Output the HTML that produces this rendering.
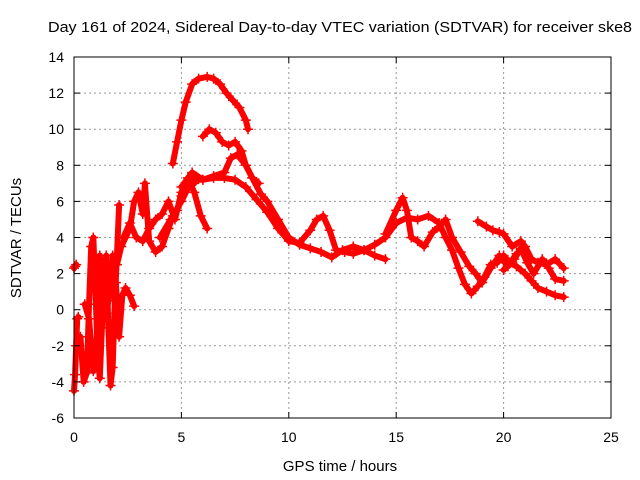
<!DOCTYPE html>
<html><head><meta charset="utf-8"><style>
body{margin:0;background:#fff}
svg{display:block;font-family:"Liberation Sans",sans-serif}
</style></head><body>
<svg id="chart" width="640" height="480">
<rect x="0" y="0" width="640" height="480" fill="#fff"/>
<g id="grid"></g>
<g id="marks"></g>
<g id="axes"></g>
<text x="48" y="32" font-size="15" textLength="584" lengthAdjust="spacingAndGlyphs">Day 161 of 2024, Sidereal Day-to-day VTEC variation (SDTVAR) for receiver ske8</text>
<text x="340" y="471" font-size="15" text-anchor="middle">GPS time / hours</text>
<text transform="translate(21,238) rotate(-90)" font-size="15" text-anchor="middle">SDTVAR / TECUs</text>
</svg>
<script>
const xTicks=[0,5,10,15,20,25];
const yTicks=[-6,-4,-2,0,2,4,6,8,10,12,14];
const track1=[[0,2.3],[0.05,2.4],[0.1,2.5]];
const track2=[[0,-4.5],[0.05,-3.6],[0.1,-2],[0.15,-0.5],[0.2,-0.4]];
const track3=[[0.3,-1.5],[0.45,-4],[0.6,-3.5],[0.7,0.3],[0.8,3.5],[0.9,4],[1,1],[1.1,-2.5],[1.2,-3.8],[1.3,-1],[1.4,2],[1.5,3],[1.6,-1],[1.7,-4.2],[1.8,-3.2],[1.9,0.5],[2,3],[2.1,5.8]];
const track4=[[0.5,0.3],[0.7,-0.5],[0.9,-3.4],[1.05,-2],[1.2,3],[1.35,1.5],[1.5,-0.2],[1.65,0.8],[1.8,3],[1.95,1.5],[2.1,-1.5],[2.25,0.8],[2.4,1.2],[2.6,0.8],[2.8,0.2]];
const track5=[[2,2.5],[2.2,3.5],[2.4,4],[2.6,4.5],[2.8,6],[3,6.5],[3.2,5.3],[3.3,7],[3.5,3.8],[3.8,3.2],[4.1,3.5],[4.4,4.5],[4.6,5.2],[4.8,5.5],[5,6.3],[5.3,6.8],[5.6,7]];
const track6=[[2.3,4],[2.6,4.8],[2.9,4],[3.2,3.8],[3.5,4.5],[3.8,5],[4.1,5.3],[4.4,6],[4.7,5],[5,6.5],[5.3,7.3],[5.6,6.5],[5.9,5.2],[6.2,4.5]];
const track7=[[4.6,8.1],[4.8,9.3],[5,10.5],[5.2,11.5],[5.5,12.5],[5.8,12.8],[6.2,12.9],[6.5,12.8],[6.8,12.5],[7.1,12],[7.4,11.6],[7.7,11.2],[8,10.5],[8.1,10]];
const track8=[[6,9.6],[6.3,10],[6.6,9.8],[6.9,9.3],[7.2,9.1],[7.5,9.3],[7.8,8.8],[8,8],[8.3,7.3],[8.6,7]];
const track9=[[4,4],[4.5,5],[5,6],[5.5,7.2],[6,7.2],[6.5,7.4],[7,7.6],[7.3,8.4],[7.6,8.6],[8,8],[8.3,7.3],[8.7,6.4],[9,6],[9.5,5],[10,4],[10.5,3.6],[11,3.4],[11.5,3.2],[12,2.9],[12.5,3.3],[13,3.5],[13.5,3.3],[14,3.6],[14.5,4],[15,4.8],[15.5,5.1],[16,5],[16.5,5.2],[17,4.8],[17.3,4],[17.6,3.3],[17.9,2.3],[18.2,1.4],[18.5,0.9],[18.8,1.3],[19.1,1.8],[19.4,2.5],[19.7,2.6],[20,3],[20.3,2.6],[20.6,2.4],[21,2],[21.3,1.6],[21.6,1.2],[22,1],[22.4,0.8],[22.8,0.7]];
const track10=[[5,6.8],[5.5,7.6],[6,7.2],[6.5,7.3],[7,7.3],[7.5,7.2],[8,6.8],[8.5,6.1],[9,5.4],[9.5,4.5],[10,3.8],[10.5,3.7],[11,4.4],[11.3,5],[11.6,5.2],[11.9,4.4],[12.2,3.3],[12.6,3.2],[13,3.1],[13.5,3.3],[14,3],[14.5,2.8]];
const track11=[[14.5,4.2],[15,5.5],[15.3,6.2],[15.5,5.5],[15.7,4],[16,3.8],[16.3,3.5],[16.7,4.3],[17,4.6],[17.3,5],[17.6,4],[18,3.2],[18.4,2.4],[18.7,2],[19,1.5],[19.4,2.3],[19.8,3],[20.2,2.4],[20.6,3.1]];
const track12=[[18.8,4.9],[19.2,4.6],[19.5,4.4],[19.8,4.3],[20,4.2],[20.4,3.5],[20.8,3.8],[21,3.5],[21.3,2.8],[21.6,2.6],[22,2.5],[22.4,2.8],[22.8,2.3]];
const track13=[[20,2.2],[20.5,2.8],[20.8,3.4],[21.1,2.6],[21.4,2],[21.8,2.8],[22.1,2.3],[22.4,1.7],[22.8,1.6]];
const series=[track1,track2,track3,track4,track5,track6,track7,track8,track9,track10,track11,track12,track13];

const X0=74,X1=611,Y0=418,Y1=57;
const sx=v=>X0+(v-0)/(25-0)*(X1-X0);
const sy=v=>Y0-(v-(-6))/(14-(-6))*(Y0-Y1);
const NS="http://www.w3.org/2000/svg";
function mk(tag,attrs,parent){const e=document.createElementNS(NS,tag);for(const k in attrs)e.setAttribute(k,attrs[k]);parent.appendChild(e);return e;}
const grid=document.getElementById('grid'),axes=document.getElementById('axes'),marks=document.getElementById('marks');
xTicks.forEach(t=>{
  const x=sx(t);
  if(t>0&&t<25){const g=mk('line',{x1:x,x2:x,y1:Y1,y2:Y0,stroke:'#999','stroke-dasharray':'2,3'},grid);
  
  }
  mk('line',{x1:x,x2:x,y1:Y0,y2:Y0-6,stroke:'#000'},axes);
  mk('line',{x1:x,x2:x,y1:Y1,y2:Y1+6,stroke:'#000'},axes);
  const tx=mk('text',{x:x,y:Y0+24,'font-size':14,'text-anchor':'middle'},axes);tx.textContent=t;
  
  
});
yTicks.forEach(t=>{
  const y=sy(t);
  if(t>-6&&t<14){const g=mk('line',{x1:X0,x2:X1,y1:y,y2:y,stroke:'#999','stroke-dasharray':'2,3'},grid);
  
  }
  mk('line',{x1:X0,x2:X0+6,y1:y,y2:y,stroke:'#000'},axes);
  mk('line',{x1:X1,x2:X1-6,y1:y,y2:y,stroke:'#000'},axes);
  const tx=mk('text',{x:X0-10,y:y+5,'font-size':14,'text-anchor':'end'},axes);tx.textContent=t;
  
  
});
const fr=mk('rect',{x:X0,y:Y1,width:X1-X0,height:Y0-Y1,fill:'none',stroke:'#000'},axes);


series.forEach((s,i)=>{
  const g=mk('g',{},marks);
  
  
  mk('polyline',{points:s.map(p=>sx(p[0])+','+sy(p[1])).join(' '),fill:'none',stroke:'#f00','stroke-width':6,'stroke-linejoin':'round','stroke-linecap':'round'},g);
  s.forEach(p=>{
    const x=sx(p[0]),y=sy(p[1]);
    mk('path',{d:`M${x-5},${y}H${x+5}M${x},${y-5}V${y+5}`,stroke:'#f00','stroke-width':1.5},g);
  });
});
</script>
</body></html>
